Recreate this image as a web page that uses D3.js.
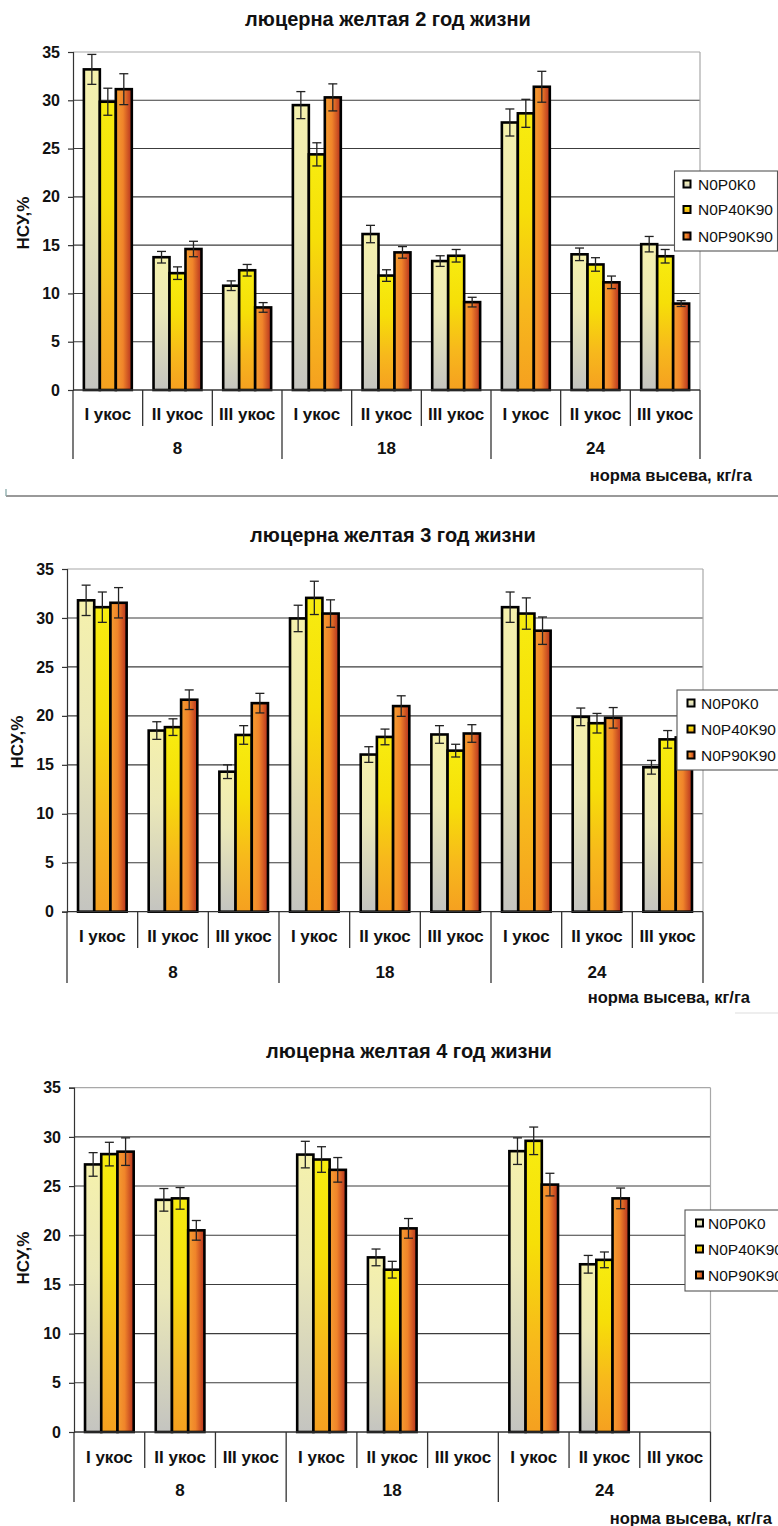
<!DOCTYPE html>
<html>
<head>
<meta charset="utf-8">
<script src="https://cdn.jsdelivr.net/npm/d3@7"></script>
<style>
  html, body { margin: 0; padding: 0; background: #fff; }
  svg { display: block; }
  text { font-family: "Liberation Sans", Arial, sans-serif; fill: #111; }
</style>
</head>
<body>
<svg id="chart" width="778" height="1526"></svg>
<script>
// ---------- DATA ----------
const doses = ["8", "18", "24"];
const cuts = ["I укос", "II укос", "III укос"];
const seriesNames = ["N0P0K0", "N0P40K90", "N0P90K90"];
const yTicks = [0, 5, 10, 15, 20, 25, 30, 35];
const titles = ["люцерна желтая 2 год жизни", "люцерна желтая 3 год жизни", "люцерна желтая 4 год жизни"];
const yLabel = "НСУ,%";
const xLabel = "норма высева, кг/га";

// year 2 (values for 8: I,II,III ; 18: I,II,III ; 24: I,II,III)
const y2_N0P0K0   = [33.2, 13.75, 10.8, 29.5, 16.15, 13.35, 27.7, 14.05, 15.1];
const y2_N0P40K90 = [29.85, 12.1, 12.4, 24.4, 11.85, 13.9, 28.65, 13.0, 13.85];
const y2_N0P90K90 = [31.15, 14.6, 8.55, 30.3, 14.25, 9.1, 31.4, 11.15, 8.95];
const y2_err_N0P0K0   = [1.55, 0.6, 0.5, 1.4, 0.9, 0.55, 1.4, 0.65, 0.8];
const y2_err_N0P40K90 = [1.4, 0.65, 0.6, 1.2, 0.6, 0.65, 1.45, 0.7, 0.7];
const y2_err_N0P90K90 = [1.6, 0.8, 0.5, 1.4, 0.6, 0.5, 1.6, 0.65, 0.3];

// year 3
const y3_N0P0K0   = [31.8, 18.5, 14.3, 29.95, 16.05, 18.1, 31.1, 19.9, 14.75];
const y3_N0P40K90 = [31.1, 18.85, 18.05, 32.05, 17.85, 16.45, 30.45, 19.25, 17.6];
const y3_N0P90K90 = [31.55, 21.65, 21.3, 30.45, 21.0, 18.2, 28.7, 19.8, 17.8];
const y3_err_N0P0K0   = [1.55, 0.9, 0.7, 1.35, 0.8, 0.9, 1.55, 0.9, 0.7];
const y3_err_N0P40K90 = [1.55, 0.85, 0.95, 1.7, 0.8, 0.65, 1.6, 1.0, 0.9];
const y3_err_N0P90K90 = [1.55, 1.0, 1.0, 1.4, 1.05, 0.9, 1.4, 1.05, 0.9];

// year 4 (III укос – no data)
const y4_N0P0K0   = [27.2, 23.6, null, 28.2, 17.75, null, 28.55, 17.05, null];
const y4_N0P40K90 = [28.25, 23.75, null, 27.7, 16.5, null, 29.6, 17.5, null];
const y4_N0P90K90 = [28.5, 20.5, null, 26.65, 20.7, null, 25.15, 23.75, null];
const y4_err_N0P0K0   = [1.2, 1.15, null, 1.35, 0.85, null, 1.35, 0.9, null];
const y4_err_N0P40K90 = [1.2, 1.1, null, 1.3, 0.85, null, 1.4, 0.8, null];
const y4_err_N0P90K90 = [1.4, 1.0, null, 1.25, 1.0, null, 1.15, 1.05, null];

const years = [
  { values: [y2_N0P0K0, y2_N0P40K90, y2_N0P90K90], errors: [y2_err_N0P0K0, y2_err_N0P40K90, y2_err_N0P90K90] },
  { values: [y3_N0P0K0, y3_N0P40K90, y3_N0P90K90], errors: [y3_err_N0P0K0, y3_err_N0P40K90, y3_err_N0P90K90] },
  { values: [y4_N0P0K0, y4_N0P40K90, y4_N0P90K90], errors: [y4_err_N0P0K0, y4_err_N0P40K90, y4_err_N0P90K90] }
];

// ---------- LAYOUT ----------
const layouts = [
  { left: 73, right: 700, zero: 390, top: 52, titleX: 388, titleY: 19, yLabX: 23, yLabY: 223,
    catY: 414, grpY: 448, shortB: 426, longB: 459, xLabRight: 752, xLabY: 475,
    legend: { x: 674.5, y: 171, w: 103, h: 80, mx: 687, tx: 698, rows: [184, 209.5, 236] } },
  { left: 67, right: 703, zero: 911.7, top: 569, titleX: 393, titleY: 535, yLabX: 17, yLabY: 742,
    catY: 936, grpY: 972, shortB: 948, longB: 983, xLabRight: 750, xLabY: 997,
    legend: { x: 677, y: 690, w: 120, h: 80, mx: 691, tx: 701, rows: [703, 729, 755] } },
  { left: 74, right: 710.5, zero: 1432, top: 1087.7, titleX: 409, titleY: 1051, yLabX: 23, yLabY: 1258,
    catY: 1457, grpY: 1490, shortB: 1468, longB: 1502, xLabRight: 772, xLabY: 1518,
    legend: { x: 685, y: 1210, w: 120, h: 81, mx: 699.5, tx: 708, rows: [1223, 1249, 1275] } }
];

const svg = d3.select("#chart");
svg.append("rect").attr("width", 778).attr("height", 1526).attr("fill", "#fff");

// ---------- GRADIENTS ----------
const defs = svg.append("defs");
function vGrad(id, stops) {
  const g = defs.append("linearGradient").attr("id", id).attr("x1", 0).attr("y1", 0).attr("x2", 0).attr("y2", 1);
  stops.forEach(s => g.append("stop").attr("offset", s[0]).attr("stop-color", s[1]));
}
function hGrad(id, stops) {
  const g = defs.append("linearGradient").attr("id", id).attr("x1", 0).attr("y1", 0).attr("x2", 1).attr("y2", 0);
  stops.forEach(s => g.append("stop").attr("offset", s[0]).attr("stop-color", s[1]));
}
vGrad("g0", [[0, "#f5f1ac"], [0.4, "#ebe8b8"], [1, "#c4c4c0"]]);
vGrad("g1", [[0, "#f7ec10"], [0.35, "#f6df08"], [0.7, "#f7b81c"], [1, "#f5a020"]]);
hGrad("g2", [[0, "#f59e30"], [0.45, "#f0842a"], [1, "#b5301e"]]);
const fills = ["url(#g0)", "url(#g1)", "url(#g2)"];

// ---------- DRAW ----------
years.forEach((yr, ci) => {
  const L = layouts[ci];
  const g = svg.append("g");
  const idx = d3.range(9);
  const x0 = d3.scaleBand().domain(idx).range([L.left, L.right]).paddingInner(0).paddingOuter(0);
  const x1 = d3.scaleBand().domain([0, 1, 2]).range([0, x0.bandwidth()]).paddingInner(0).paddingOuter(0.68);
  const y = d3.scaleLinear().domain([0, 35]).range([L.zero, L.top]);

  // title
  g.append("text").attr("x", L.titleX).attr("y", L.titleY).attr("text-anchor", "middle")
    .attr("dominant-baseline", "central").attr("font-size", 20).attr("font-weight", "bold").text(titles[ci]);

  // gridlines
  g.selectAll(".grid").data(yTicks.filter(t => t > 0)).enter().append("line")
    .attr("x1", L.left).attr("x2", L.right).attr("y1", d => y(d)).attr("y2", d => y(d))
    .attr("stroke", d => d === 35 ? "#a8a8a8" : "#3c3c3c").attr("stroke-width", d => d === 35 ? 1.2 : 1.1);
  // right border
  g.append("line").attr("x1", L.right).attr("x2", L.right).attr("y1", y(35)).attr("y2", L.zero)
    .attr("stroke", "#a8a8a8").attr("stroke-width", 1.2);

  // y axis
  const ax = d3.axisLeft(y).tickValues(yTicks).tickSize(5).tickPadding(8).tickFormat(d3.format("d"));
  const axg = g.append("g").attr("transform", `translate(${L.left},0)`).call(ax);
  axg.select(".domain").attr("stroke", "#333").attr("stroke-width", 1.2);
  axg.selectAll(".tick line").attr("stroke", "#333").attr("stroke-width", 1.2);
  axg.selectAll(".tick text").attr("font-size", 16).attr("font-weight", "bold")
    .attr("fill", "#111").attr("font-family", "Liberation Sans, Arial, sans-serif");

  // y label
  g.append("text").attr("transform", `translate(${L.yLabX},${L.yLabY}) rotate(-90)`)
    .attr("text-anchor", "middle").attr("dominant-baseline", "central")
    .attr("font-size", 17).attr("font-weight", "bold").text(yLabel);

  // bars
  yr.values.forEach((vals, si) => {
    const data = idx.filter(i => vals[i] != null).map(i => ({ i, v: vals[i], e: yr.errors[si][i] }));
    g.selectAll(".bar" + si).data(data).enter().append("rect")
      .attr("x", d => x0(d.i) + x1(si)).attr("width", x1.bandwidth())
      .attr("y", d => y(d.v)).attr("height", d => y(0) - y(d.v))
      .attr("fill", fills[si]).attr("stroke", "#000").attr("stroke-width", 2.6);
  });
  // error bars
  yr.values.forEach((vals, si) => {
    const data = idx.filter(i => vals[i] != null).map(i => ({ i, v: vals[i], e: yr.errors[si][i] }));
    const eg = g.selectAll(".err" + si).data(data).enter().append("g")
      .attr("stroke", "#222").attr("stroke-width", 1.3);
    const cx = d => x0(d.i) + x1(si) + x1.bandwidth() / 2;
    eg.append("line").attr("x1", cx).attr("x2", cx).attr("y1", d => y(d.v - d.e)).attr("y2", d => y(d.v + d.e));
    eg.append("line").attr("x1", d => cx(d) - 4.5).attr("x2", d => cx(d) + 4.5).attr("y1", d => y(d.v + d.e)).attr("y2", d => y(d.v + d.e));
    eg.append("line").attr("x1", d => cx(d) - 4.5).attr("x2", d => cx(d) + 4.5).attr("y1", d => y(d.v - d.e)).attr("y2", d => y(d.v - d.e));
  });

  // x axis baseline
  g.append("line").attr("x1", L.left).attr("x2", L.right).attr("y1", L.zero).attr("y2", L.zero)
    .attr("stroke", "#333").attr("stroke-width", 1.3);

  // separators
  d3.range(10).forEach(k => {
    const xx = k < 9 ? x0(k) : L.right;
    const isLong = k % 3 === 0;
    g.append("line").attr("x1", xx).attr("x2", xx).attr("y1", L.zero).attr("y2", isLong ? L.longB : L.shortB)
      .attr("stroke", "#333").attr("stroke-width", 1.3);
  });

  // category labels
  g.selectAll(".cat").data(idx).enter().append("text")
    .attr("x", i => x0(i) + x0.bandwidth() / 2).attr("y", L.catY)
    .attr("text-anchor", "middle").attr("dominant-baseline", "central")
    .attr("font-size", 17).attr("font-weight", "bold").text(i => cuts[i % 3]);
  // dose labels
  g.selectAll(".dose").data(doses).enter().append("text")
    .attr("x", (d, k) => (x0(k * 3) + (k === 2 ? L.right : x0(k * 3 + 3))) / 2).attr("y", L.grpY)
    .attr("text-anchor", "middle").attr("dominant-baseline", "central")
    .attr("font-size", 17).attr("font-weight", "bold").text(d => d);
  // x label
  g.append("text").attr("x", L.xLabRight).attr("y", L.xLabY).attr("text-anchor", "end")
    .attr("dominant-baseline", "central").attr("font-size", 16.5).attr("font-weight", "bold").text(xLabel);

  // legend
  const lg = L.legend;
  g.append("rect").attr("x", lg.x).attr("y", lg.y).attr("width", lg.w).attr("height", lg.h)
    .attr("fill", "#fff").attr("stroke", "#555").attr("stroke-width", 1.1);
  seriesNames.forEach((nm, si) => {
    g.append("rect").attr("x", lg.mx - 3.5).attr("y", lg.rows[si] - 3.5).attr("width", 7).attr("height", 7)
      .attr("fill", fills[si]).attr("stroke", "#000").attr("stroke-width", 2);
    g.append("text").attr("x", lg.tx).attr("y", lg.rows[si]).attr("dominant-baseline", "central")
      .attr("font-size", 15.5).attr("fill", "#1a1a30").text(nm);
  });
});

// frame fragments
svg.append("line").attr("x1", 6).attr("x2", 778).attr("y1", 496).attr("y2", 496).attr("stroke", "#777").attr("stroke-width", 1.3);
svg.append("line").attr("x1", 6).attr("x2", 6).attr("y1", 489).attr("y2", 496).attr("stroke", "#8aa").attr("stroke-width", 1.3);
svg.append("line").attr("x1", 735).attr("x2", 778).attr("y1", 1013).attr("y2", 1013).attr("stroke", "#ddd").attr("stroke-width", 1);
</script>
</body>
</html>
